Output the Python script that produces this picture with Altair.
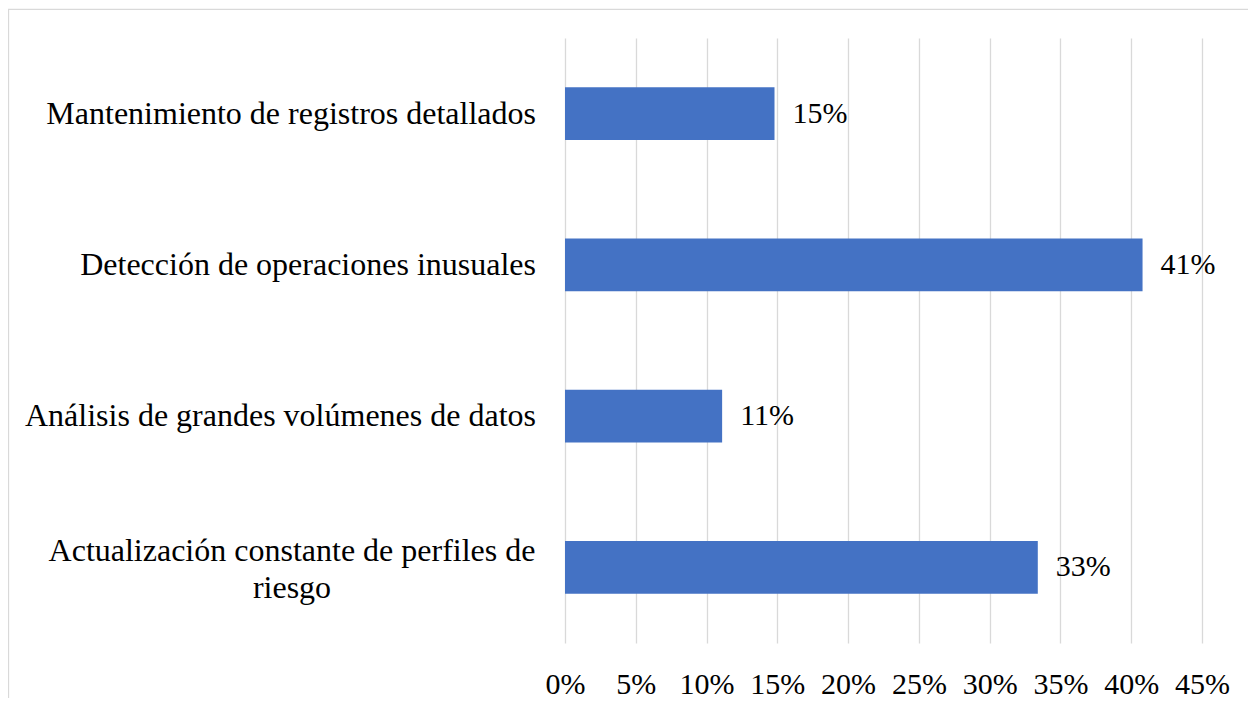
import altair as alt
import pandas as pd

categories = [
    "Mantenimiento de registros detallados",
    "Detección de operaciones inusuales",
    "Análisis de grandes volúmenes de datos",
    "Actualización constante de perfiles de riesgo",
]
labels = [
    "Mantenimiento de registros detallados",
    "Detección de operaciones inusuales",
    "Análisis de grandes volúmenes de datos",
    "Actualización constante de perfiles de\nriesgo",
]
values = [0.148, 0.408, 0.111, 0.334]
tick_values = [0.0, 0.05, 0.10, 0.15, 0.20, 0.25, 0.30, 0.35, 0.40, 0.45]

FONT = "Liberation Serif"
BAR = "#4472C4"
GRID = "#d9d9d9"

df = pd.DataFrame({
    "category": categories,
    "label": labels,
    "value": values,
    "lines": [len(l.split("\n")) for l in labels],
})

base = alt.Chart(df)

y_enc = alt.Y(
    "category:N",
    sort=categories,
    scale=alt.Scale(paddingInner=0.65, paddingOuter=0.325),
    axis=None,
)

bars = base.mark_bar(color=BAR).encode(
    x=alt.X(
        "value:Q",
        scale=alt.Scale(domain=[0, 0.45], nice=False),
        axis=alt.Axis(
            values=tick_values,
            format=".0%",
            grid=True,
            gridColor=GRID,
            gridWidth=1.3,
            domain=False,
            ticks=False,
            tickSize=0,
            labelPadding=50,
            labelBaseline="alphabetic",
            labelFont=FONT,
            labelFontSize=30,
            labelColor="black",
            labelFlush=False,
            labelOverlap=False,
            title=None,
        ),
    ),
    y=y_enc,
)

value_labels = base.mark_text(
    align="left", baseline="middle", dx=18, font=FONT, fontSize=30, color="black"
).encode(
    x="value:Q",
    y=y_enc,
    text=alt.Text("value:Q", format=".0%"),
)

single_cat = base.transform_filter("datum.lines == 1").mark_text(
    align="right", baseline="middle", font=FONT, fontSize=32, color="black"
).encode(
    x=alt.value(-29),
    y=y_enc,
    text="label:N",
)

multi_cat = base.transform_filter("datum.lines > 1").mark_text(
    align="center", baseline="middle", font=FONT, fontSize=32, color="black",
    lineBreak="\n", lineHeight=37, dy=-16,
).encode(
    x=alt.value(-273),
    y=y_enc,
    text="label:N",
)

frame = alt.Chart(pd.DataFrame({"frame": [1]})).mark_rect(
    fillOpacity=0, stroke=GRID, strokeWidth=1.3
).encode(
    x=alt.value(-556.5),
    x2=alt.value(1200),
    y=alt.value(-28.7),
    y2=alt.value(1200),
)

chart = alt.layer(frame, bars, value_labels, single_cat, multi_cat).properties(
    width=637,
    height=605,
    padding={"left": 557, "top": 30, "right": 46, "bottom": 55},
    autosize=alt.AutoSizeParams(type="none"),
).configure_view(stroke="transparent")

chart.save("out.html", embed_options={"renderer": "svg", "actions": False})
